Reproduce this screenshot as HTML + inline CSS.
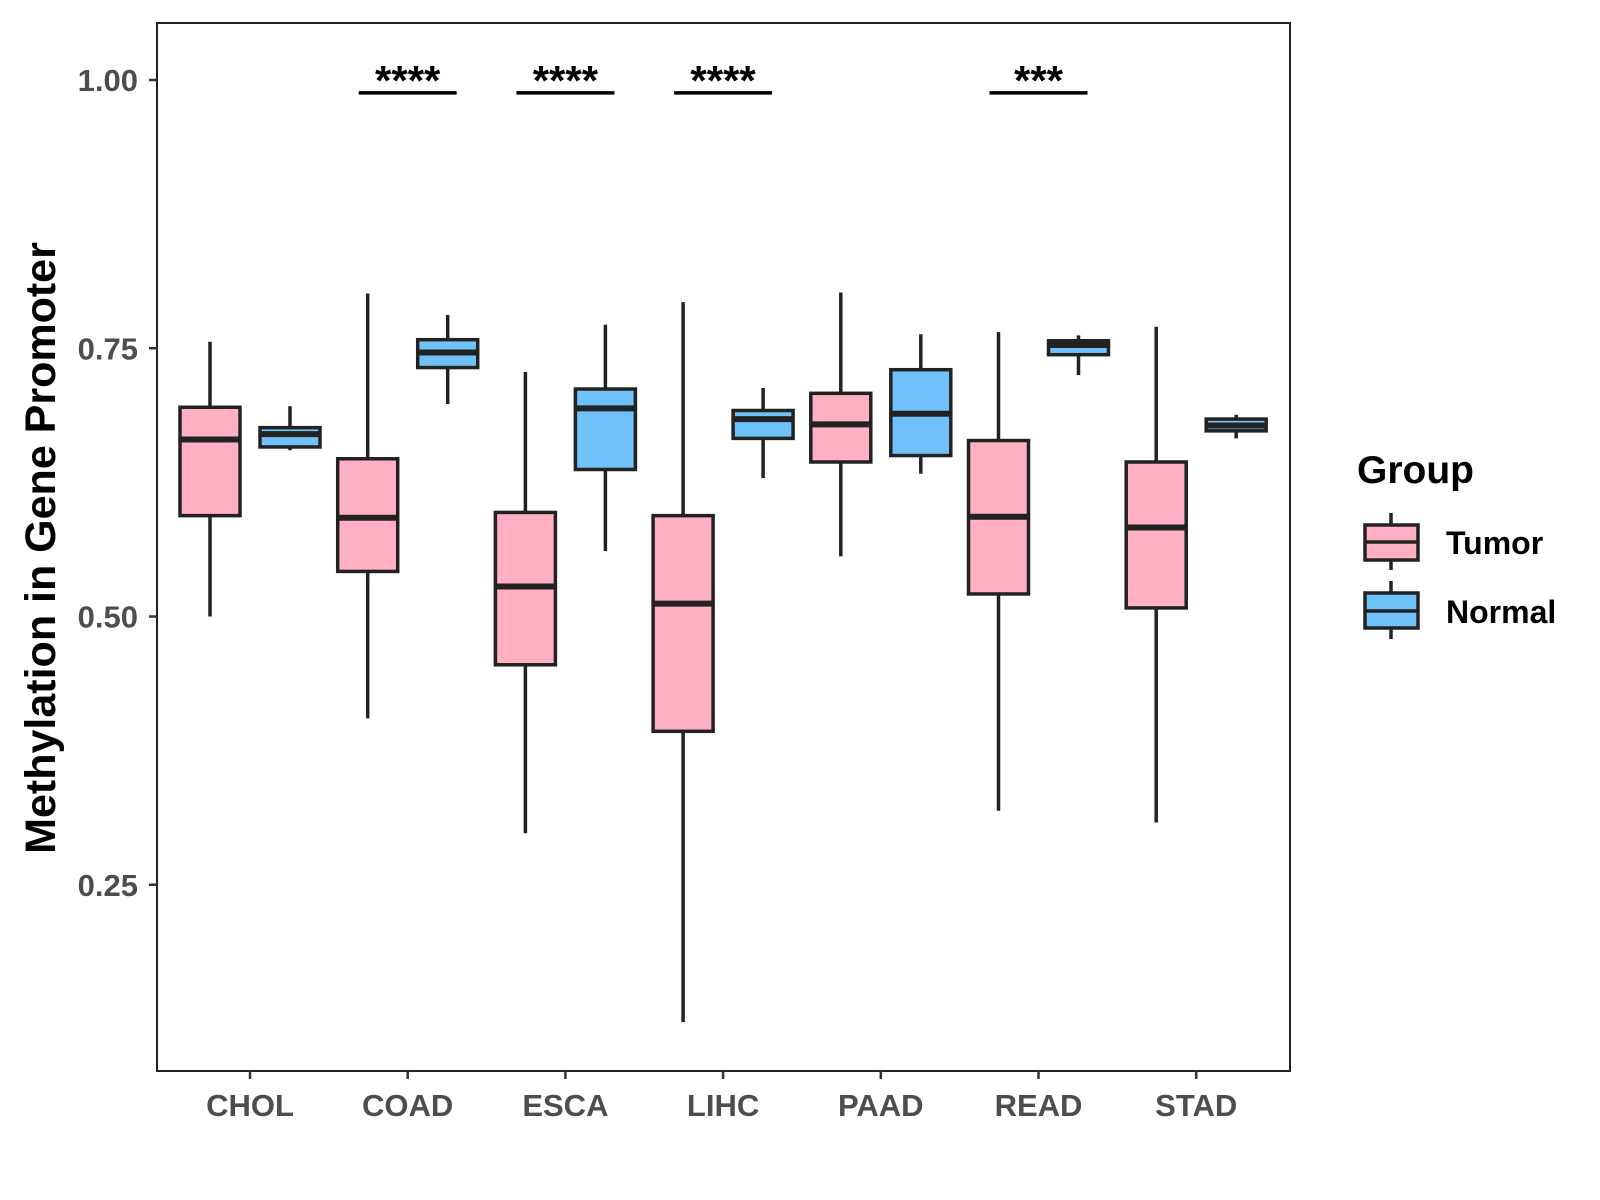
<!DOCTYPE html>
<html><head><meta charset="utf-8"><style>
html,body{margin:0;padding:0;background:#fff;}
svg{display:block;font-family:"Liberation Sans",Arial,sans-serif;}
</style></head><body>
<svg id="chart" width="1600" height="1200" viewBox="0 0 1600 1200">
<rect x="157" y="23" width="1133" height="1048" fill="#fff" stroke="#222" stroke-width="2"/>
<g id="marks"></g>
<text x="0" y="0" transform="translate(55,548) rotate(-90)" text-anchor="middle" font-size="43" font-weight="bold" fill="#000">Methylation in Gene Promoter</text>
<g>
<text x="1357" y="483" font-size="39" font-weight="bold" fill="#000">Group</text>
<g>
<line x1="1391" y1="513" x2="1391" y2="570" stroke="#222" stroke-width="3.5"/>
<rect x="1365" y="525" width="53" height="35" fill="#FFB0C3" stroke="#222" stroke-width="3.5"/>
<line x1="1365" y1="542" x2="1418" y2="542" stroke="#222" stroke-width="3.5"/>
<text x="1446" y="554" font-size="32" font-weight="bold" fill="#000">Tumor</text>
</g>
<g>
<line x1="1391" y1="581" x2="1391" y2="639" stroke="#222" stroke-width="3.5"/>
<rect x="1365" y="593" width="53" height="35" fill="#70C1FA" stroke="#222" stroke-width="3.5"/>
<line x1="1365" y1="611" x2="1418" y2="611" stroke="#222" stroke-width="3.5"/>
<text x="1446" y="623" font-size="32" font-weight="bold" fill="#000">Normal</text>
</g>
</g>
</svg>
<script>
const categories=["CHOL","COAD","ESCA","LIHC","PAAD","READ","STAD"];
// [whiskerHigh, q3, median, q1, whiskerLow]
const tumorStats=[[0.756,0.695,0.665,0.594,0.500],[0.801,0.647,0.592,0.542,0.405],[0.728,0.597,0.528,0.455,0.298],[0.793,0.594,0.512,0.393,0.122],[0.802,0.708,0.679,0.644,0.556],[0.765,0.664,0.593,0.521,0.319],[0.770,0.644,0.583,0.508,0.308]];
const normalStats=[[0.696,0.676,0.670,0.658,0.655],[0.781,0.758,0.746,0.732,0.698],[0.772,0.712,0.694,0.637,0.561],[0.713,0.692,0.684,0.666,0.629],[0.763,0.730,0.689,0.650,0.633],[0.762,0.757,0.753,0.744,0.725],[0.688,0.684,0.678,0.673,0.666]];
const yTicks=[0.25,0.50,0.75,1.00];
const sigCategories=["COAD","ESCA","LIHC","READ"];
const sigLabels=["****","****","****","***"];
const sigLevel=0.988;

const NS="http://www.w3.org/2000/svg";
const g=document.getElementById("marks");
function y(v){return 80+(1-v)*1073;}
function x(i){return 250+i*157.7;}
function el(t,a,p){const e=document.createElementNS(NS,t);for(const k in a)e.setAttribute(k,a[k]);(p||g).appendChild(e);return e;}

yTicks.forEach(v=>{
  const t=el("line",{x1:149,x2:157,y1:y(v),y2:y(v),stroke:"#333","stroke-width":2.5});
  
  
  const l=el("text",{x:138,y:y(v)+11,"text-anchor":"end","font-size":31,"font-weight":"bold",fill:"#4d4d4d"});
  l.textContent=v.toFixed(2);
  
  
});
categories.forEach((c,i)=>{
  const t=el("line",{x1:x(i),x2:x(i),y1:1071,y2:1079,stroke:"#333","stroke-width":2.5});
  
  
  const l=el("text",{x:x(i),y:1116,"text-anchor":"middle","font-size":31,"font-weight":"bold",fill:"#4d4d4d"});
  l.textContent=c;
  
  
});
function box(cx,s,fill,name){
  const grp=el("g",{});
  
  
  el("line",{x1:cx,x2:cx,y1:y(s[0]),y2:y(s[4]),stroke:"#222","stroke-width":3.5},grp);
  el("rect",{x:cx-30,y:y(s[1]),width:60,height:Math.max(y(s[3])-y(s[1]),1),fill:fill,stroke:"#222","stroke-width":3.5},grp);
  el("line",{x1:cx-30,x2:cx+30,y1:y(s[2]),y2:y(s[2]),stroke:"#222","stroke-width":6},grp);
}
categories.forEach((c,i)=>{
  box(x(i)-40,tumorStats[i],"#FFB0C3","box-tumor-"+c.toLowerCase());
  box(x(i)+40,normalStats[i],"#70C1FA","box-normal-"+c.toLowerCase());
});
sigCategories.forEach((c,k)=>{
  const i=categories.indexOf(c);
  const ln=el("line",{x1:x(i)-49,x2:x(i)+49,y1:y(sigLevel),y2:y(sigLevel),stroke:"#000","stroke-width":3.5});
  
  
  const t=el("text",{x:x(i),y:y(sigLevel)+2,"text-anchor":"middle","font-size":42,"font-weight":"bold",fill:"#000"});
  t.textContent=sigLabels[k];
  
  
});
</script>
</body></html>
